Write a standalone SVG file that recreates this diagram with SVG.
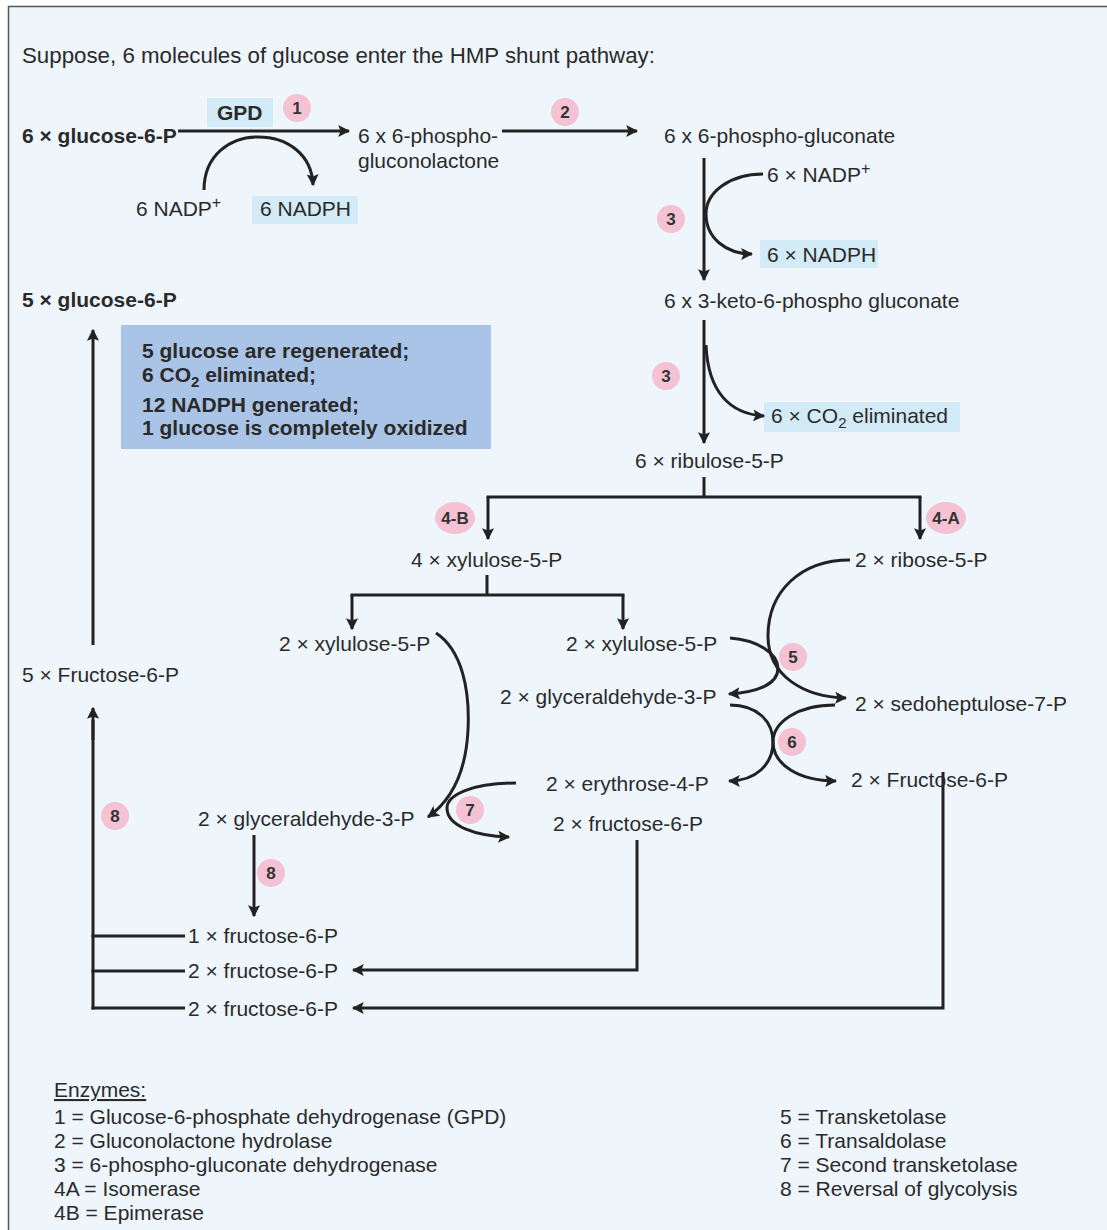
<svg xmlns="http://www.w3.org/2000/svg" width="1107" height="1230" viewBox="0 0 1107 1230">
<defs>
<marker id="ah" viewBox="0 0 10 10" refX="9" refY="5" markerWidth="4" markerHeight="4" orient="auto-start-reverse" markerUnits="strokeWidth">
<path d="M0,0 L10,5 L0,10 L2,5 z" fill="#222"/>
</marker>
<style>
text{font-family:"Liberation Sans",Arial,sans-serif;font-size:21px;fill:#2a2a2a}
.b{font-weight:bold}
.bx{font-weight:bold;font-size:21px}
.en{font-size:21px}
.hl{fill:#d3ebf6}
.bd circle,.bd ellipse{fill:#f4c2d2}
.bd text{font-weight:bold;font-size:17px;text-anchor:middle;fill:#333}
.c path,.c line,.c polyline{fill:none;stroke:#222;stroke-width:3}
.ar{marker-end:url(#ah)}
</style>
</defs>
<rect x="0" y="0" width="1107" height="1230" fill="#ffffff"/>
<rect x="8.5" y="6.5" width="1110" height="1240" fill="#eef6fc" stroke="#555" stroke-width="1.5"/>

<text x="22" y="63" style="font-size:22.3px">Suppose, 6 molecules of glucose enter the HMP shunt pathway:</text>

<g id="highlights">
<rect class="hl" x="207" y="98" width="66" height="29"/>
<rect class="hl" x="252" y="196" width="106" height="28"/>
<rect class="hl" x="760" y="240" width="118" height="28"/>
<rect class="hl" x="764" y="402" width="196" height="30"/>
</g>

<g id="summary">
<rect x="121" y="325" width="370" height="124" fill="#a9c4e6"/>
<text class="bx" x="142" y="358">5 glucose are regenerated;</text>
<text class="bx" x="142" y="382">6 CO<tspan dy="5" font-size="15">2</tspan><tspan dy="-5"> eliminated;</tspan></text>
<text class="bx" x="142" y="412">12 NADPH generated;</text>
<text class="bx" x="142" y="435">1 glucose is completely oxidized</text>
</g>

<g id="connectors" class="c">
<line class="ar" x1="178" y1="131" x2="349" y2="131"/>
<path class="ar" d="M204,190 C204,155 230,137 258,137 C288,137 312,155 313,185"/>
<line class="ar" x1="502" y1="131" x2="637" y2="131"/>
<line class="ar" x1="704" y1="158" x2="704" y2="280"/>
<path class="ar" d="M763,174 C730,174 706,192 706,214 C706,238 726,254 752,254"/>
<line class="ar" x1="704" y1="320" x2="704" y2="443"/>
<path class="ar" d="M706,345 C708,392 730,414 764,416"/>
<line x1="704" y1="477" x2="704" y2="497"/>
<line x1="486.5" y1="497" x2="921.5" y2="497"/>
<line class="ar" x1="488" y1="497" x2="488" y2="539"/>
<line class="ar" x1="920" y1="497" x2="920" y2="539"/>
<line x1="487" y1="575" x2="487" y2="595"/>
<line x1="350.5" y1="595" x2="624.5" y2="595"/>
<line class="ar" x1="352" y1="595" x2="352" y2="629"/>
<line class="ar" x1="623" y1="595" x2="623" y2="629"/>
<path class="ar" d="M850,560 C800,560 768,592 768,636 C768,676 804,697 846,698"/>
<path class="ar" d="M730,638 C758,640 778,654 778,668 C778,684 758,692 729,694"/>
<path class="ar" d="M730,705 C758,705 773,722 773,742 C773,764 798,781 836,781"/>
<path class="ar" d="M835,705 C798,705 773,722 773,742 C773,764 756,781 729,781"/>
<path class="ar" d="M436,633 C462,650 470,690 468,730 C466,770 452,800 428,817"/>
<path class="ar" d="M516,783 C472,783 447,795 447,808 C447,826 475,836 509,837"/>
<line class="ar" x1="254" y1="835" x2="254" y2="916"/>
<line x1="93" y1="1009.5" x2="93" y2="720"/>
<line class="ar" x1="93" y1="740" x2="93" y2="708"/>
<line class="ar" x1="93" y1="645" x2="93" y2="330"/>
<line x1="91.5" y1="936" x2="185" y2="936"/>
<line x1="91.5" y1="971" x2="185" y2="971"/>
<line x1="91.5" y1="1008" x2="185" y2="1008"/>
<polyline class="ar" points="637,840 637,970 353,970"/>
<polyline class="ar" points="943,772 943,1008 353,1008"/>
</g>

<g id="nodes">
<text id="n-g6p" class="b" x="22" y="143">6 × glucose-6-P</text>
<text id="n-gpd" class="b" x="217" y="120">GPD</text>
<text id="n-nadp1" x="136" y="216">6 NADP<tspan dy="-8" font-size="16">+</tspan></text>
<text id="n-nadph1" x="260" y="216">6 NADPH</text>
<g id="n-lactone"><text x="358" y="143">6 x 6-phospho-</text><text x="358" y="168">gluconolactone</text></g>
<text id="n-6pg" x="664" y="143">6 x 6-phospho-gluconate</text>
<text id="n-nadp2" x="767" y="182">6 × NADP<tspan dy="-8" font-size="16">+</tspan></text>
<text id="n-nadph2" x="767" y="262">6 × NADPH</text>
<text id="n-keto" x="664" y="308">6 x 3-keto-6-phospho gluconate</text>
<text id="n-co2" x="771" y="423">6 × CO<tspan dy="5" font-size="15">2</tspan><tspan dy="-5"> eliminated</tspan></text>
<text id="n-ru5p" x="635" y="468">6 × ribulose-5-P</text>
<text id="n-xu5p4" x="411" y="567">4 × xylulose-5-P</text>
<text id="n-r5p" x="855" y="567">2 × ribose-5-P</text>
<text id="n-xu5p-a" x="279" y="651">2 × xylulose-5-P</text>
<text id="n-xu5p-b" x="566" y="651">2 × xylulose-5-P</text>
<text id="n-gap1" x="500" y="704">2 × glyceraldehyde-3-P</text>
<text id="n-s7p" x="855" y="711">2 × sedoheptulose-7-P</text>
<text id="n-e4p" x="546" y="791">2 × erythrose-4-P</text>
<text id="n-f6p-r" x="851" y="787">2 × Fructose-6-P</text>
<text id="n-f6p-m" x="553" y="831">2 × fructose-6-P</text>
<text id="n-gap2" x="198" y="826">2 × glyceraldehyde-3-P</text>
<text id="n-g6p5" class="b" x="22" y="307">5 × glucose-6-P</text>
<text id="n-f6p5" x="22" y="682">5 × Fructose-6-P</text>
<text id="n-f6p1" x="188" y="943">1 × fructose-6-P</text>
<text id="n-f6p2a" x="188" y="978">2 × fructose-6-P</text>
<text id="n-f6p2b" x="188" y="1016">2 × fructose-6-P</text>
</g>

<g id="badges" class="bd">
<g id="b1"><circle cx="297" cy="108" r="14"/><text x="297" y="114">1</text></g>
<g id="b2"><circle cx="565" cy="112" r="14"/><text x="565" y="118">2</text></g>
<g id="b3a"><circle cx="671" cy="219" r="14"/><text x="671" y="225">3</text></g>
<g id="b3b"><circle cx="666" cy="376" r="14"/><text x="666" y="382">3</text></g>
<g id="b4b"><ellipse cx="455" cy="518" rx="20" ry="16"/><text x="455" y="524">4-B</text></g>
<g id="b4a"><ellipse cx="946" cy="518" rx="20" ry="16"/><text x="946" y="524">4-A</text></g>
<g id="b5"><circle cx="793" cy="657" r="14"/><text x="793" y="663">5</text></g>
<g id="b6"><circle cx="792" cy="742" r="14"/><text x="792" y="748">6</text></g>
<g id="b7"><circle cx="470" cy="810" r="14"/><text x="470" y="816">7</text></g>
<g id="b8a"><circle cx="115" cy="816" r="14"/><text x="115" y="822">8</text></g>
<g id="b8b"><circle cx="271" cy="873" r="14"/><text x="271" y="879">8</text></g>
</g>

<g id="legend">
<text class="en" x="54" y="1097" text-decoration="underline">Enzymes:</text>
<text class="en" x="54" y="1124">1 = Glucose-6-phosphate dehydrogenase (GPD)</text>
<text class="en" x="54" y="1148">2 = Gluconolactone hydrolase</text>
<text class="en" x="54" y="1172">3 = 6-phospho-gluconate dehydrogenase</text>
<text class="en" x="54" y="1196">4A = Isomerase</text>
<text class="en" x="54" y="1220">4B = Epimerase</text>
<text class="en" x="780" y="1124">5 = Transketolase</text>
<text class="en" x="780" y="1148">6 = Transaldolase</text>
<text class="en" x="780" y="1172">7 = Second transketolase</text>
<text class="en" x="780" y="1196">8 = Reversal of glycolysis</text>
</g>
</svg>
